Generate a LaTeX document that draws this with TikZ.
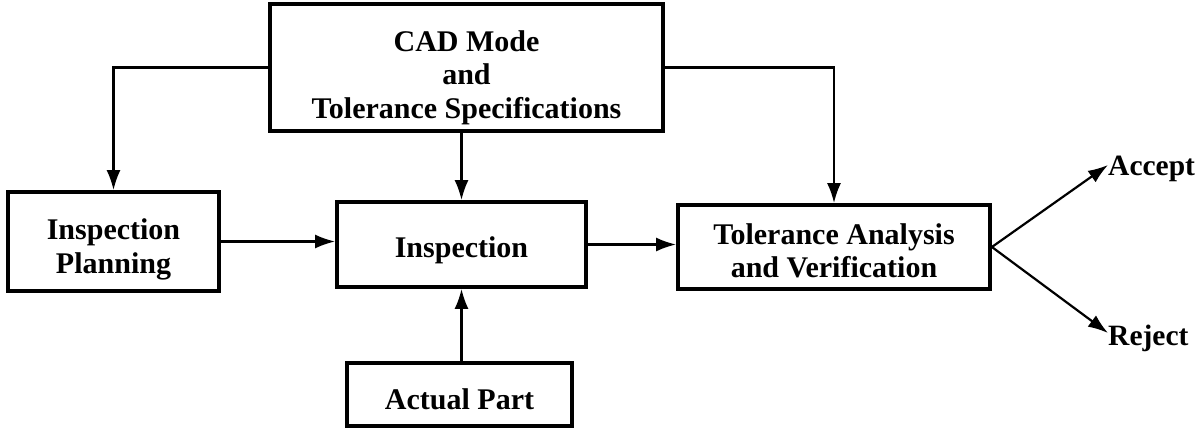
\documentclass[tikz,border=0pt]{standalone}
\usepackage{fontspec}
\setmainfont{Liberation Serif}
\usetikzlibrary{arrows.meta}
\begin{document}
\begin{tikzpicture}[x=1pt,y=-1pt,
  box/.style={draw, line width=3.8pt, inner sep=0pt},
  txt/.style={align=center, inner sep=0pt,
    font=\bfseries\fontsize{30}{33.5}\selectfont},
  lbl/.style={inner sep=0pt, anchor=west,
    font=\bfseries\fontsize{29.5}{33}\selectfont},
  arr/.style={line width=2.2pt, -{Latex[length=20pt,width=14pt]}}]
\useasboundingbox (0,0) rectangle (1197,431);

% block frames
\node[box, minimum width=393pt, minimum height=127pt] (cad) at (466.5,67.5) {};
\node[box, minimum width=211pt, minimum height=99pt] (plan) at (113.5,241.5) {};
\node[box, minimum width=249pt, minimum height=85pt] (insp) at (461.5,244.5) {};
\node[box, minimum width=312pt, minimum height=84pt] (tol) at (834,247) {};
\node[box, minimum width=225pt, minimum height=63pt] (part) at (459.5,394.5) {};

% block texts
\node[txt] (cadtext) at ([yshift=-10pt]cad.center)
  {CAD Mode\\and\\Tolerance Specifications};
\node[txt] (plantext) at ([yshift=-8pt]plan.center) {Inspection\\Planning};
\node[txt] (insptext) at ([yshift=-6pt]insp.center) {Inspection};
\node[txt] (toltext) at ([yshift=-4pt]tol.center)
  {Tolerance Analysis\\and Verification};
\node[txt] (parttext) at ([yshift=-5pt]part.center) {Actual Part};

% outcomes
\node[lbl] (acc) at (1108,169) {Accept};
\node[lbl] (rej) at (1108,338) {Reject};

% connectors
\draw[arr] (cad.west) -| (plan.north);
\draw[arr] (cad.east) -| (tol.north);
\draw[arr] (insp.north |- cad.south) -- (insp.north);
\draw[arr] (plan.east) -- (plan.east -| insp.west);
\draw[arr] (insp.east) -- (insp.east -| tol.west);
\draw[arr] (insp.south |- part.north) -- (insp.south);
\draw[arr] (tol.east) -- ([yshift=4pt]acc.west);
\draw[arr] (tol.east) -- ([yshift=5pt]rej.west);
\end{tikzpicture}
\end{document}
